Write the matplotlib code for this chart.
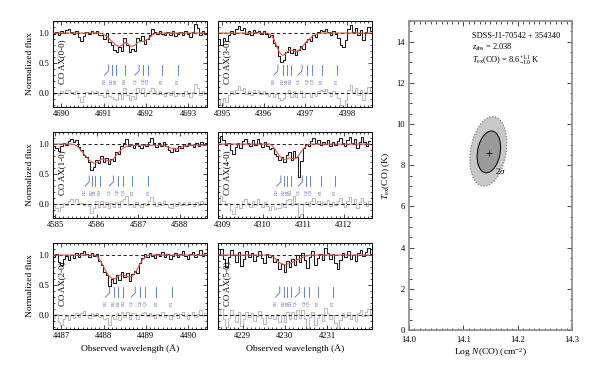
import numpy as np
import matplotlib
matplotlib.use("Agg")
import matplotlib.pyplot as plt
from matplotlib.ticker import MultipleLocator, FormatStrFormatter

plt.rcParams["font.family"] = "Liberation Serif"
plt.rcParams["mathtext.fontset"] = "custom"
plt.rcParams["mathtext.rm"] = "Liberation Serif"
plt.rcParams["mathtext.it"] = "Liberation Serif:italic"

# ---- spectra: pixel size (A), first pixel, flux, model dip (start index + values) ----
STEP = 0.06

wl0_00 = 4689.82
flux_00 = [0.98, 1.01, 0.97, 1.03, 1.00, 1.05, 1.06, 1.02, 0.99, 1.04, 0.93, 0.86, 0.95, 1.02,
           0.98, 1.03, 1.00, 1.04, 0.97,
           0.96, 0.90, 1.00, 0.85, 0.80, 0.72, 0.68, 0.76, 0.70, 0.92, 0.80, 0.68, 0.74, 0.70,
           0.92, 0.88, 0.95, 0.82, 0.90, 0.97, 1.06, 1.02, 0.98,
           1.04, 0.99, 0.96, 1.02, 0.97, 1.03, 0.95, 0.99, 1.01, 0.96, 1.04, 0.98, 0.93, 1.02,
           1.15, 1.08, 0.97, 1.03, 0.99]
dip_start_00 = 19
dip_00 = [0.99, 0.97, 0.94, 0.90, 0.86, 0.82, 0.79, 0.78, 0.80, 0.84, 0.83, 0.79, 0.78, 0.80,
          0.84, 0.86, 0.86, 0.87, 0.89, 0.93, 0.97, 0.99]
lines_00 = [4691.12, 4691.20, 4691.30, 4691.50, 4691.84, 4691.94, 4692.04, 4692.38, 4692.76]

wl0_30 = 4394.92
flux_30 = [0.90, 0.80, 0.92, 0.86, 0.97, 1.03, 0.98, 1.06, 1.12, 1.05, 1.09, 0.99, 1.04, 0.97,
           1.05, 1.01, 1.04, 0.98, 1.03, 0.99, 0.94, 0.97, 0.84, 0.78, 0.62, 0.52, 0.55, 0.68,
           0.76, 0.66, 0.74, 0.63, 0.72, 0.78, 0.74, 0.85, 0.90, 0.86, 0.97, 0.93, 1.02, 1.05,
           1.03, 1.07, 1.02, 0.96, 1.04, 0.99, 0.92, 0.80, 0.76, 0.88, 1.06, 1.14, 1.02, 1.08,
           0.97, 1.05, 0.88, 1.02, 1.10, 1.04]
dip_start_30 = 20
dip_30 = [0.99, 0.96, 0.90, 0.80, 0.70, 0.64, 0.63, 0.67, 0.71, 0.72, 0.70, 0.69, 0.71, 0.75,
          0.80, 0.85, 0.89, 0.93, 0.96, 0.98, 0.99]
lines_30 = [4396.34, 4396.46, 4396.56, 4396.66, 4396.92, 4397.04, 4397.16, 4397.40, 4397.76]

wl0_10 = 4584.98
flux_10 = [0.97, 0.93, 0.88, 0.96, 1.02, 0.98, 1.05, 1.08, 1.03, 1.06, 0.95, 0.90, 0.82, 0.78,
           0.70, 0.56, 0.62, 0.74, 0.68, 0.80, 0.70, 0.77, 0.66, 0.75, 0.72, 0.86, 0.83, 0.97,
           1.02, 1.09, 0.96, 0.99, 0.94, 1.01, 0.97, 0.93, 1.00, 0.96, 1.04, 1.10, 1.02, 0.95,
           1.01, 0.97, 1.03, 0.96, 0.90, 0.86, 0.94, 0.89, 0.97, 0.93, 1.00, 0.96, 1.02, 0.98,
           0.95, 1.01, 0.97, 1.03, 0.99, 1.01]
dip_start_10 = 8
dip_10 = [0.99, 0.97, 0.93, 0.88, 0.83, 0.78, 0.73, 0.70, 0.68, 0.69, 0.72, 0.75, 0.75, 0.73,
          0.72, 0.73, 0.77, 0.82, 0.87, 0.91, 0.94, 0.96, 0.97, 0.98,
          0.98, 0.98, 0.98, 0.98, 0.98, 0.98, 0.98, 0.98, 0.98, 0.98, 0.98, 0.98, 0.98,
          0.96, 0.94, 0.93, 0.92, 0.92, 0.93, 0.95, 0.96,
          0.97, 0.98, 0.98, 0.98, 0.98, 0.98, 0.98, 0.98, 0.98]
lines_10 = [4585.82, 4585.88, 4585.95, 4586.07, 4586.40, 4586.50, 4586.63, 4586.86, 4587.24]

wl0_40 = 4308.92
flux_40 = [1.04, 1.13, 1.06, 0.98, 1.02, 0.90, 0.84, 0.95, 1.01, 0.93, 1.05, 1.09, 1.02, 0.96,
           1.06, 0.99, 1.08, 1.01, 0.95, 1.03, 0.97, 0.91, 0.94, 0.84, 0.80, 0.73, 0.78, 0.70,
           0.82, 0.86, 0.74, 0.88, 0.79, 0.46, 0.72, 0.93, 1.00, 0.96, 1.05, 1.10, 1.02, 1.06,
           0.98, 1.04, 1.00, 1.07, 0.97, 1.03, 0.99, 1.05, 1.10, 1.02, 0.96, 1.06, 1.12, 1.01,
           1.08, 0.94, 1.04, 1.11, 1.03, 0.97, 1.05]
dip_start_40 = 22
dip_40 = [0.97, 0.92, 0.86, 0.80, 0.76, 0.74, 0.75, 0.77, 0.76, 0.75, 0.77, 0.82, 0.88, 0.93,
          0.97, 0.99]
lines_40 = [4310.45, 4310.52, 4310.61, 4310.70, 4310.98, 4311.07, 4311.18, 4311.43, 4311.79]

wl0_20 = 4486.82
flux_20 = [0.96, 1.02, 0.88, 0.84, 0.93, 0.99, 0.92, 1.00, 0.95, 1.03, 0.97, 1.04, 1.07, 1.01,
           0.96, 1.03, 0.99, 1.02, 0.90, 0.84, 0.72, 0.66, 0.48, 0.60, 0.54, 0.66, 0.58, 0.72,
           0.63, 0.70, 0.57, 0.68, 0.74, 0.70, 0.86, 0.95, 1.01, 0.97, 1.04, 0.99, 0.95, 1.02,
           0.98, 1.05, 0.97, 1.01, 0.94, 0.99, 1.03, 0.96, 1.02, 1.06, 0.98, 0.93, 1.01, 1.05,
           0.97, 1.02, 1.08, 0.99, 1.03]
dip_start_20 = 17
dip_20 = [0.98, 0.93, 0.86, 0.78, 0.70, 0.64, 0.61, 0.61, 0.63, 0.66, 0.67, 0.66, 0.64, 0.63,
          0.65, 0.70, 0.77, 0.85, 0.92, 0.96, 0.99]
lines_20 = [4488.14, 4488.24, 4488.35, 4488.47, 4488.75, 4488.86, 4488.98, 4489.25, 4489.61]

wl0_50 = 4228.44
flux_50 = [1.02, 1.10, 0.94, 0.80, 0.96, 1.08, 1.00, 0.88, 1.05, 0.82, 0.93, 1.06, 0.97, 1.03,
           0.90, 0.98, 1.07, 0.95, 0.86, 1.01, 0.96, 0.99, 0.88, 0.93, 0.76, 0.85, 0.72, 0.90,
           0.80, 0.94, 0.84, 1.00, 0.89, 1.04, 0.92, 0.78, 0.97, 1.06, 0.84, 0.95, 1.02, 0.91,
           1.12, 1.04, 0.93, 1.01, 0.87, 0.76, 0.92, 1.03, 0.97, 1.06, 0.94, 1.00, 0.90, 1.04,
           1.09, 0.98, 1.05, 1.11, 1.02]
dip_start_50 = 21
dip_50 = [0.98, 0.95, 0.91, 0.87, 0.85, 0.84, 0.85, 0.86, 0.88, 0.90, 0.92, 0.94, 0.96, 0.98,
          0.99]
lines_50 = [4229.88, 4229.98, 4230.06, 4230.14, 4230.34, 4230.45, 4230.56, 4230.78, 4231.14]

line_names = ["R3", "R2", "R1", "R0", "Q1", "Q2", "Q3", "P2", "P3"]

# ---- excitation temperature vs column density contours ----
ncol_best = 14.147
tex_best = 8.6
# (centre x, centre y, half-width in x, half-height in y, tilt phase)
contour_2sig = (14.146, 8.67, 0.034, 1.69, 0.24)
contour_1sig = (14.147, 8.645, 0.0215, 1.015, 0.22)

# ---- layout ----
panels = [
    # band label, wl0, flux, dip start, dip, lines, xlim, xticks, col, row
    ("CO AX(0-0)", wl0_00, flux_00, dip_start_00, dip_00, lines_00, (4689.8, 4693.45), [4690, 4691, 4692, 4693], 0, 0),
    ("CO AX(3-0)", wl0_30, flux_30, dip_start_30, dip_30, lines_30, (4394.9, 4398.6), [4395, 4396, 4397, 4398], 1, 0),
    ("CO AX(1-0)", wl0_10, flux_10, dip_start_10, dip_10, lines_10, (4584.95, 4588.65), [4585, 4586, 4587, 4588], 0, 1),
    ("CO AX(4-0)", wl0_40, flux_40, dip_start_40, dip_40, lines_40, (4308.9, 4312.7), [4309, 4310, 4311, 4312], 1, 1),
    ("CO AX(2-0)", wl0_20, flux_20, dip_start_20, dip_20, lines_20, (4486.8, 4490.45), [4487, 4488, 4489, 4490], 0, 2),
    ("CO AX(5-0)", wl0_50, flux_50, dip_start_50, dip_50, lines_50, (4228.42, 4232.06), [4229, 4230, 4231], 1, 2),
]

W, H = 600, 379
BLUE = "#4a6fd0"
RED = "#e8533f"

fig = plt.figure(figsize=(W / 100, H / 100), dpi=100)

col_left = [53, 218]
row_top = [21, 132, 243]
pw, ph = 154, 86

for name, wl0, flux, k, dip, lines, xlim, xticks, col, row in panels:
    ax = fig.add_axes([col_left[col] / W, 1 - (row_top[row] + ph) / H, pw / W, ph / H])
    flux = np.array(flux)
    wl = wl0 + STEP * np.arange(len(flux))
    model = np.ones(len(flux))
    model[k:k + len(dip)] = dip
    resid = flux - model

    ax.plot(wl, resid, drawstyle="steps-mid", color="#bdbdbd", lw=0.75, zorder=1)
    ax.axhline(1.0, color="k", ls=(0, (4, 3)), lw=0.6, zorder=2)
    ax.axhline(0.0, color="k", ls=(0, (4, 3)), lw=0.6, zorder=2)
    ax.plot(wl, flux, drawstyle="steps-mid", color="#1a1a1a", lw=0.75, zorder=3)
    ax.plot(wl, model, color=RED, lw=0.8, zorder=4)

    for i, (lam, lab) in enumerate(zip(lines, line_names)):
        xl = lam - 0.1 if i in (0, 4) else lam
        ax.plot([xl, lam, lam], [0.30, 0.37, 0.47], color=BLUE, lw=0.6, zorder=5)
        ax.text(xl, 0.2, lab, rotation=90, fontsize=3.6, color=BLUE,
                ha="center", va="center", zorder=5)

    ax.text(0.058, 0.53, name, transform=ax.transAxes, rotation=90, fontsize=6.4,
            ha="center", va="center", zorder=6)

    ax.set_xlim(*xlim)
    ax.set_ylim(-0.23, 1.2)
    ax.set_xticks(xticks)
    ax.xaxis.set_minor_locator(MultipleLocator(0.1))
    ax.set_yticks([0.0, 0.5, 1.0])
    ax.yaxis.set_minor_locator(MultipleLocator(0.1))
    ax.yaxis.set_major_formatter(FormatStrFormatter("%.1f"))
    ax.tick_params(which="both", direction="in", top=True, right=True, labelsize=6.2, pad=2.5,
                   width=0.5)
    ax.tick_params(which="major", length=3)
    ax.tick_params(which="minor", length=1.5)
    for sp in ax.spines.values():
        sp.set_linewidth(0.7)
    if col == 0:
        ax.set_ylabel("Normalized flux", fontsize=6.8, labelpad=3)
    else:
        ax.set_yticklabels([])
    if row == 2:
        ax.set_xlabel("Observed wavelength (Å)", fontsize=6.8, labelpad=3)

# right panel
axr = fig.add_axes([409 / W, 1 - 330 / H, 163 / W, 309 / H])
t = np.linspace(0, 2 * np.pi, 200)
for (cx, cy, sx, sy, phi), fc, ec, ls in [
    (contour_2sig, "#c8c8c8", "#6e6e6e", ":"),
    (contour_1sig, "#9a9a9a", "#111111", "-"),
]:
    xs = cx + sx * np.cos(t)
    ys = cy + sy * np.sin(t + phi)
    axr.fill(xs, ys, facecolor=fc, edgecolor=ec, linestyle=ls, lw=0.8)
axr.plot([ncol_best], [tex_best], marker="+", color="k", ms=5, mew=0.6)
axr.text(14.168, 7.72, r"2$\sigma$", fontsize=6.5, ha="center", va="center")

axr.text(0.387, 0.952, "SDSS-J1-70542 + 354340", transform=axr.transAxes, fontsize=6,
         ha="left", va="center")
axr.text(0.387, 0.916, r"$z_{\rm abs}$ = 2.038", transform=axr.transAxes, fontsize=6,
         ha="left", va="center")
axr.text(0.387, 0.872, r"$T_{\rm ex}$(CO) = 8.6$^{+1.1}_{-1.0}$ K", transform=axr.transAxes,
         fontsize=6, ha="left", va="center")

axr.set_xlim(14.0, 14.3)
axr.set_ylim(0, 15)
axr.set_xticks([14.0, 14.1, 14.2, 14.3])
axr.xaxis.set_major_formatter(FormatStrFormatter("%.1f"))
axr.xaxis.set_minor_locator(MultipleLocator(0.01))
axr.set_yticks(range(0, 15, 2))
axr.yaxis.set_minor_locator(MultipleLocator(0.5))
axr.tick_params(which="both", direction="in", top=True, right=True, labelsize=6.2,
                width=0.5)
axr.tick_params(axis="x", pad=4)
axr.tick_params(axis="y", pad=3)
axr.tick_params(which="major", length=3.5)
axr.tick_params(which="minor", length=1.8)
for sp in axr.spines.values():
    sp.set_linewidth(1.2)
    sp.set_color("#8a8a8a")
axr.set_xlabel(r"Log $N$(CO) (cm$^{-2}$)", fontsize=6.8, labelpad=2)
axr.set_ylabel(r"$T_{\rm ex}$(CO) (K)", fontsize=6.8, labelpad=3)

fig.savefig("out.png", dpi=100)
